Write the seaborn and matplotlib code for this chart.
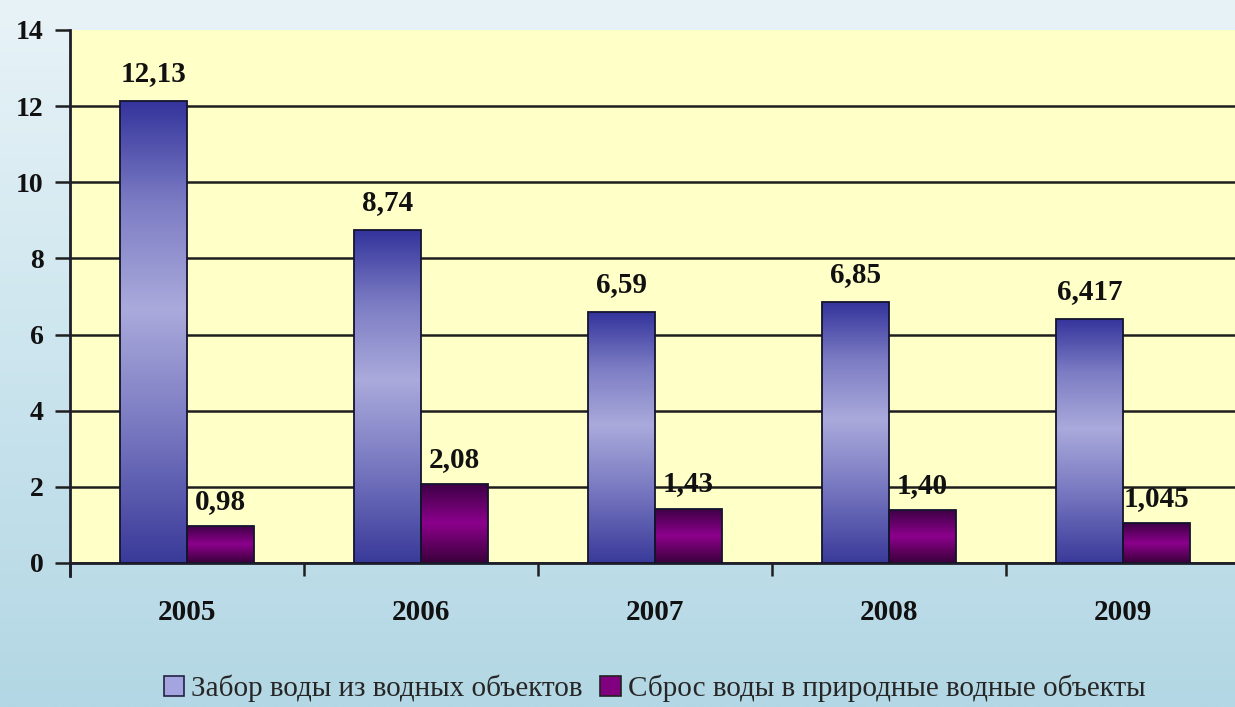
import numpy as np
import pandas as pd
import matplotlib
matplotlib.use("Agg")
import matplotlib.pyplot as plt
import seaborn as sns
from matplotlib.colors import LinearSegmentedColormap
from matplotlib.patches import Patch
from matplotlib.ticker import FixedLocator

# ---- data ----
years = ["2005", "2006", "2007", "2008", "2009"]
series_names = ["Забор воды из водных объектов",
                "Сброс воды в природные водные объекты"]
intake = [12.13, 8.74, 6.59, 6.85, 6.417]
discharge = [0.98, 2.08, 1.43, 1.40, 1.045]
intake_labels = ["12,13", "8,74", "6,59", "6,85", "6,417"]
discharge_labels = ["0,98", "2,08", "1,43", "1,40", "1,045"]
yticks = [0, 2, 4, 6, 8, 10, 12, 14]

df = pd.DataFrame({
    "year": years * 2,
    "series": [series_names[0]] * len(years) + [series_names[1]] * len(years),
    "value": intake + discharge,
})

sns.set_theme(style="white")
plt.rcParams["font.family"] = ["Liberation Serif", "DejaVu Serif"]

fig = plt.figure(figsize=(12.35, 7.07), dpi=100)

# background (water-like light blue gradient)
bg = fig.add_axes([0, 0, 1, 1], zorder=-10)
grad_bg = np.linspace(0, 1, 256)[:, None]
cmap_bg = LinearSegmentedColormap.from_list(
    "bg", ["#e8f3f7", "#d6eaf1", "#c3e0eb", "#b3d7e4"])
bg.imshow(grad_bg, aspect="auto", cmap=cmap_bg, extent=[0, 1, 0, 1], origin="upper")
bg.axis("off")

ax = fig.add_axes([0.0567, 0.2037, 0.9473, 0.754])
ax.set_facecolor("#ffffc8")

sns.barplot(data=df, x="year", y="value", hue="series",
            palette=["#6b6bc0", "#800080"], width=0.57,
            edgecolor="#14142e", linewidth=1.3, ax=ax, legend=True,
            zorder=3)

# gradient fills for the bars
blue_cmap = LinearSegmentedColormap.from_list(
    "b", [(0, "#3a3a9a"), (0.3, "#7a7ac2"), (0.55, "#aaaadc"),
          (0.78, "#7c7cc4"), (1.0, "#34349c")])
purple_cmap = LinearSegmentedColormap.from_list(
    "p", [(0, "#3a003a"), (0.5, "#8c008c"), (1.0, "#3c0044")])
grad = np.linspace(0, 1, 256)[:, None]
for bar in list(ax.patches):
    h = bar.get_height()
    if not np.isfinite(h) or h <= 0:
        continue
    x0, y0, w = bar.get_x(), bar.get_y(), bar.get_width()
    fc = bar.get_facecolor()
    cmap = blue_cmap if fc[2] > fc[0] + 0.05 else purple_cmap
    im = ax.imshow(grad, extent=[x0, x0 + w, y0, y0 + h], aspect="auto",
                   cmap=cmap, origin="lower", zorder=2.9, interpolation="bilinear")
    im.set_clip_path(bar)
    bar.set_facecolor("none")

# value labels
lab_kw = dict(fontsize=21, fontweight="bold", color="#111111")
ax.bar_label(ax.containers[0], labels=intake_labels, padding=10, **lab_kw)
ax.bar_label(ax.containers[1], labels=discharge_labels, padding=8, **lab_kw)

# axes
ax.set_xlim(-0.5, 4.5)
ax.set_ylim(0, 14)
ax.set_yticks(yticks)
ax.set_yticklabels([str(v) for v in yticks])
ax.set_xlabel("")
ax.set_ylabel("")
ax.set_axisbelow(True)
ax.yaxis.grid(True, color="#1e1e1e", linewidth=1.8)
ax.xaxis.grid(False)
ax.get_ygridlines()[-1].set_visible(False)

for s in ["top", "right"]:
    ax.spines[s].set_visible(False)
for s in ["left", "bottom"]:
    ax.spines[s].set_color("#1e1e2a")
    ax.spines[s].set_linewidth(2)
ax.spines["left"].set_bounds(-0.35, 14)

ax.tick_params(axis="y", which="major", direction="out", length=11, width=1.8,
               color="#1e1e1e", pad=8, left=True, labelsize=20)
ax.tick_params(axis="x", which="major", length=0, pad=26, labelsize=21)
ax.xaxis.set_minor_locator(FixedLocator([-0.5, 0.5, 1.5, 2.5, 3.5]))
ax.tick_params(axis="x", which="minor", direction="out", length=9, width=1.8,
               color="#1e1e1e", bottom=True)
for t in ax.get_yticklabels() + ax.get_xticklabels():
    t.set_fontweight("bold")
    t.set_color("#111111")

# legend
leg = ax.get_legend()
if leg is not None:
    leg.remove()
handles = [Patch(facecolor="#a4a4e0", edgecolor="#222244", linewidth=1.2),
           Patch(facecolor="#800080", edgecolor="#222222", linewidth=1.2)]
fig.legend(handles, series_names, loc="center", bbox_to_anchor=(0.53, 0.026),
           ncol=2, frameon=False, fontsize=21, handlelength=0.7,
           handleheight=0.7, handletextpad=0.25, columnspacing=0.6)

fig.savefig("out.png", dpi=100)
